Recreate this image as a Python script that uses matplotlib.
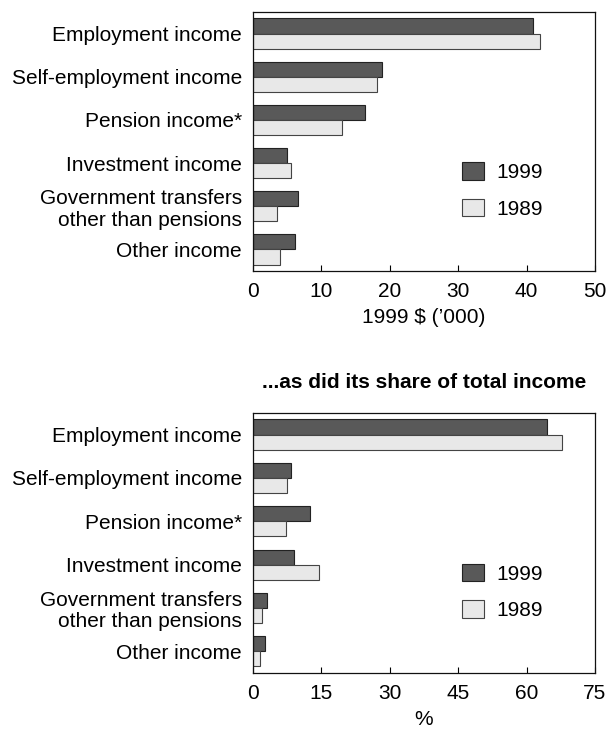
import matplotlib
matplotlib.use("Agg")
import matplotlib.pyplot as plt
import numpy as np

plt.rcParams['font.family'] = ['Liberation Sans', 'DejaVu Sans']

categories = ["Employment income", "Self-employment income", "Pension income*",
              "Investment income", "Government transfers\nother than pensions", "Other income"]
series_names = ["1999", "1989"]
dollars_1999 = [41.0, 18.8, 16.4, 5.0, 6.6, 6.1]
dollars_1989 = [41.9, 18.1, 13.0, 5.6, 3.5, 4.0]
share_1999 = [64.4, 8.3, 12.6, 9.0, 3.1, 2.6]
share_1989 = [67.8, 7.5, 7.2, 14.4, 1.9, 1.6]
top_xticks = [0, 10, 20, 30, 40, 50]
bottom_xticks = [0, 15, 30, 45, 60, 75]

dark = "#595959"
light = "#e8e8e8"
fs = 15

fig = plt.figure(figsize=(6.09, 7.32), dpi=100)
ax1 = fig.add_axes([253/609, 1-271/732, 342/609, 259/732])
ax2 = fig.add_axes([253/609, 1-673/732, 342/609, 260/732])

def draw(ax, v99, v89, xticks, xlabel):
    y = np.arange(len(categories))
    h = 0.35
    ax.barh(y - h/2, v99, height=h, color=dark, edgecolor="#222222", linewidth=0.8, label=series_names[0])
    ax.barh(y + h/2, v89, height=h, color=light, edgecolor="#444444", linewidth=0.8, label=series_names[1])
    ax.set_ylim(len(categories) - 0.5, -0.5)
    ax.set_xlim(xticks[0], xticks[-1])
    ax.set_xticks(xticks)
    ax.set_xticklabels([str(t) for t in xticks], fontsize=fs)
    ax.set_yticks(y)
    ax.set_yticklabels(categories, fontsize=fs, linespacing=1.15)
    ax.tick_params(axis='y', length=0, pad=8)
    ax.tick_params(axis='x', direction='in', length=4, width=0.8, pad=8)
    ax.set_xlabel(xlabel, fontsize=fs, labelpad=5)
    for s in ax.spines.values():
        s.set_linewidth(0.9)
        s.set_color("#111111")
    leg = ax.legend(loc='upper left', bbox_to_anchor=(0.611, 0.42), frameon=False,
                    fontsize=fs, handlelength=1.05, handleheight=0.9,
                    handletextpad=0.6, labelspacing=0.8, borderpad=0, borderaxespad=0)
    return leg

draw(ax1, dollars_1999, dollars_1989, top_xticks, "1999 $ (\u2019000)")
draw(ax2, share_1999, share_1989, bottom_xticks, "%")
ax2.set_title("...as did its share of total income", fontsize=15, fontweight='bold', pad=18)

fig.savefig("out.png", dpi=100)
